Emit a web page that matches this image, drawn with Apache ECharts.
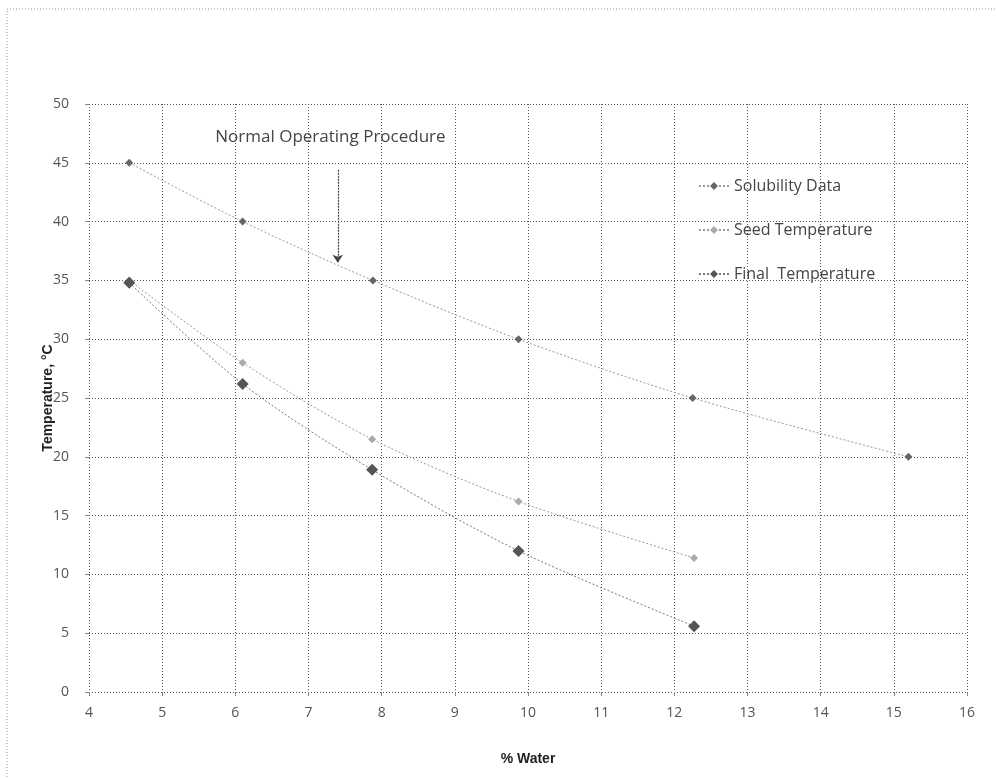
<!DOCTYPE html>
<html>
<head>
<meta charset="utf-8">
<style>
    html, body { margin: 0; padding: 0; background: #fff; }
    #chart { width: 997px; height: 778px; }
</style>
<script src="https://cdn.jsdelivr.net/npm/echarts@6/dist/echarts.min.js"></script>
</head>
<body>
<div id="chart"></div>
<script>
    // values
    var waterSolubility = [4.55, 6.1, 7.88, 9.87, 12.25, 15.2];
    var tempSolubility = [45, 40, 35, 30, 25, 20];
    var waterSeed = [4.55, 6.1, 7.87, 9.87, 12.27];
    var tempSeed = [35, 28, 21.5, 16.2, 11.4];
    var waterFinal = [4.55, 6.1, 7.87, 9.87, 12.27];
    var tempFinal = [34.8, 26.2, 18.9, 12, 5.6];
    var seriesNames = ['Solubility Data', 'Seed Temperature', 'Final  Temperature'];
    var arrowX = [7.4, 7.4];
    var arrowY = [44.4, 36.5];
    var noteAt = [7.3, 47.2];

    function pairs(xs, ys) {
        var out = [];
        for (var i = 0; i < xs.length; i++) out.push([xs[i], ys[i]]);
        return out;
    }

    var font = 'Open Sans';
    var dotted = { color: '#555', type: [1, 2], width: 1 };

    var chart = echarts.init(document.getElementById('chart'));
    var option = {
        backgroundColor: '#fff',
        animation: false,
        graphic: [{
            type: 'rect',
            shape: { x: 7, y: 9, width: 1000, height: 800 },
            style: { fill: null, stroke: '#999', lineWidth: 1, lineDash: [1, 2] }
        }],
        grid: { left: 89, right: 30, top: 104, bottom: 86 },
        legend: {
            orient: 'vertical',
            left: 693,
            top: 173,
            itemGap: 28,
            itemWidth: 30,
            itemHeight: 10,
            textStyle: { fontFamily: font, fontSize: 16, color: '#444' },
            data: seriesNames
        },
        xAxis: {
            type: 'value',
            min: 4, max: 16, interval: 1,
            name: '% Water',
            nameLocation: 'middle',
            nameGap: 60,
            nameMoveOverlap: false,
            nameTextStyle: { fontFamily: 'Liberation Sans', fontWeight: 'bold', fontSize: 14, color: '#222' },
            axisLine: { show: false },
            axisTick: { show: true, length: 4, lineStyle: { color: '#888' } },
            axisLabel: { fontFamily: font, fontSize: 14, color: '#555', margin: 14 },
            splitLine: { show: true, lineStyle: dotted }
        },
        yAxis: {
            type: 'value',
            min: 0, max: 50, interval: 5,
            name: 'Temperature, °C',
            nameLocation: 'middle',
            nameGap: 34,
            nameMoveOverlap: false,
            nameTextStyle: { fontFamily: 'Liberation Sans', fontWeight: 'bold', fontSize: 14, color: '#222' },
            axisLine: { show: false },
            axisTick: { show: true, length: 4, lineStyle: { color: '#888' } },
            axisLabel: { fontFamily: font, fontSize: 14, color: '#555', margin: 20 },
            splitLine: { show: true, lineStyle: dotted }
        },
        series: [
            {
                name: seriesNames[0],
                type: 'line',
                smooth: 0.3,
                data: pairs(waterSolubility, tempSolubility),
                symbol: 'diamond',
                symbolSize: 8,
                itemStyle: { color: '#666' },
                lineStyle: { color: '#999', width: 1, type: [2, 2] },
                markLine: {
                    silent: true,
                    symbol: ['none', 'arrow'],
                    symbolSize: 8,
                    label: { show: false },
                    lineStyle: { color: '#444', type: [2, 1], width: 1.2 },
                    data: [[
                        { coord: [arrowX[0], arrowY[0]] },
                        { coord: [arrowX[1], arrowY[1]] }
                    ]]
                },
                markPoint: {
                    silent: true,
                    symbol: 'circle',
                    symbolSize: 0,
                    itemStyle: { color: 'transparent' },
                    label: {
                        show: true,
                        position: 'inside',
                        formatter: 'Normal Operating Procedure',
                        fontFamily: font, fontSize: 17, color: '#444'
                    },
                    data: [{ coord: noteAt }]
                }
            },
            {
                name: seriesNames[1],
                type: 'line',
                smooth: 0.3,
                data: pairs(waterSeed, tempSeed),
                symbol: 'diamond',
                symbolSize: 8,
                itemStyle: { color: '#aaa' },
                lineStyle: { color: '#999', width: 1, type: [2, 2] }
            },
            {
                name: seriesNames[2],
                type: 'line',
                smooth: 0.3,
                data: pairs(waterFinal, tempFinal),
                symbol: 'diamond',
                symbolSize: 12,
                itemStyle: { color: '#555' },
                lineStyle: { color: '#777', width: 1, type: [2, 2] }
            }
        ]
    };
    chart.setOption(option);
</script>
</body>
</html>
